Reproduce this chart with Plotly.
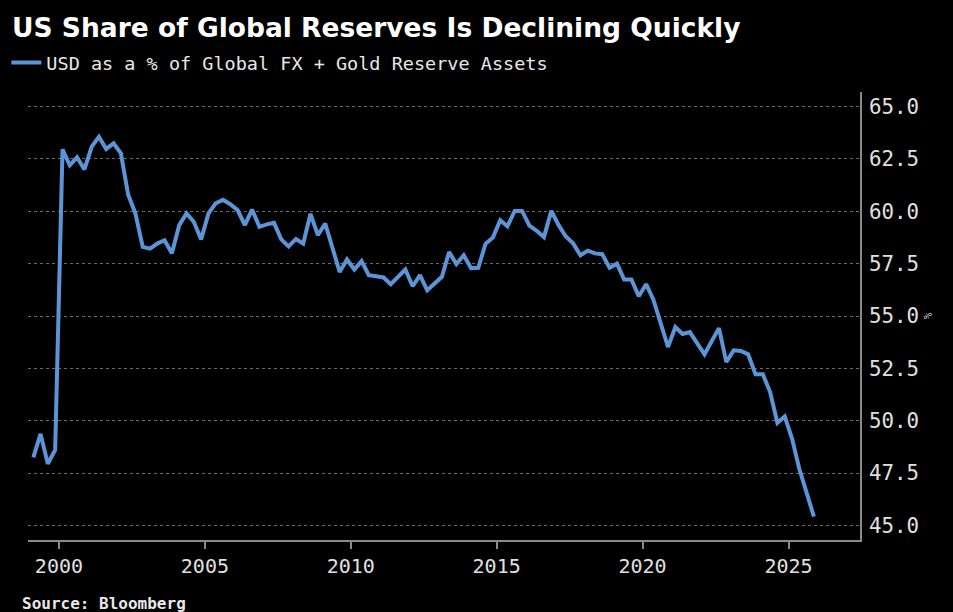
import pandas as pd
import plotly.graph_objects as go

TITLE = "US Share of Global Reserves Is Declining Quickly"
SERIES_NAME = "USD as a % of Global FX + Gold Reserve Assets"
SOURCE = "Source: Bloomberg"
START_QUARTER = "1999Q1"

usd_share = [
    48.25, 49.37, 47.94, 48.6, 62.96, 62.2, 62.58, 62.0, 63.09, 63.56,
    62.98, 63.25, 62.77, 60.8, 59.9, 58.3, 58.22, 58.46, 58.62, 58.0,
    59.34, 59.9, 59.5, 58.66, 59.9, 60.38, 60.55, 60.34, 60.06, 59.34,
    60.08, 59.26, 59.38, 59.45, 58.66, 58.32, 58.68, 58.46, 59.88, 58.86,
    59.42, 58.22, 57.1, 57.7, 57.22, 57.62, 56.95, 56.9, 56.84, 56.52,
    56.9, 57.22, 56.42, 56.95, 56.23, 56.55, 56.87, 58.06, 57.48, 57.9,
    57.28, 57.3, 58.45, 58.75, 59.57, 59.28, 60.02, 60.02, 59.32, 59.07,
    58.77, 60.02, 59.34, 58.8, 58.47, 57.9, 58.12, 57.99, 57.95, 57.3,
    57.5, 56.74, 56.74, 55.94, 56.52, 55.78, 54.64, 53.52, 54.47, 54.14,
    54.23, 53.68, 53.17, 53.8, 54.42, 52.8, 53.36, 53.33, 53.17, 52.22,
    52.22, 51.37, 49.9, 50.2, 49.13, 47.7, 46.5, 45.42,
]

y_ticks = [45.0, 47.5, 50.0, 52.5, 55.0, 57.5, 60.0, 62.5, 65.0]
x_tick_years = [2000, 2005, 2010, 2015, 2020, 2025]

quarters = pd.period_range(START_QUARTER, periods=len(usd_share), freq="Q")
dates = quarters.to_timestamp(how="start") + pd.Timedelta(days=45)

LINE_COLOR = "#5b95d8"
MONO = "DejaVu Sans Mono"

fig = go.Figure()
fig.add_trace(go.Scatter(
    x=dates, y=usd_share, mode="lines", name=SERIES_NAME,
    line=dict(color=LINE_COLOR, width=4),
))

fig.update_layout(
    width=953, height=612,
    paper_bgcolor="black", plot_bgcolor="black",
    margin=dict(l=28, r=93, t=92, b=72, autoexpand=False),
    title=dict(
        text="<b>" + TITLE + "</b>", x=12 / 953, xanchor="left",
        y=1 - 28 / 612, yanchor="middle",
        font=dict(family="DejaVu Sans", size=26.5, color="white"),
    ),
    showlegend=True,
    legend=dict(
        x=-0.026, y=1.0647, xanchor="left", yanchor="middle",
        bgcolor="rgba(0,0,0,0)", borderwidth=0,
        font=dict(family=MONO, size=18.5, color="#e8e8e8"),
        itemwidth=30,
    ),
    xaxis=dict(
        range=["1998-12-10", "2027-06-15"],
        tickvals=[pd.Timestamp(f"{y}-01-01") for y in x_tick_years],
        ticktext=[str(y) for y in x_tick_years],
        showgrid=False, showline=True, linecolor="#8a8a8a", linewidth=1.5,
        ticks="outside", ticklen=7, tickcolor="#8a8a8a", tickwidth=1.5,
        tickfont=dict(family=MONO, size=20, color="#e0e0e0"),
        zeroline=False,
    ),
    yaxis=dict(
        side="right", range=[44.3, 65.7],
        tickvals=y_ticks, ticktext=[f"{v:.1f}" for v in y_ticks],
        showgrid=True, gridcolor="#6a6a6a", griddash="dot", gridwidth=1,
        showline=True, linecolor="#8a8a8a", linewidth=1.5,
        ticks="", ticklabelstandoff=3,
        tickfont=dict(family=MONO, size=20.8, color="#e0e0e0"),
        zeroline=False,
    ),
    annotations=[
        dict(text="%", xref="paper", yref="paper", x=(936 - 28) / 832,
             y=0.5, showarrow=False, textangle=90,
             font=dict(family=MONO, size=11, color="#cfcfcf")),
        dict(text="<b>" + SOURCE + "</b>", xref="paper", yref="paper",
             x=(20 - 28) / 832, y=(540 - 603) / 448, xanchor="left",
             yanchor="middle", showarrow=False,
             font=dict(family=MONO, size=16, color="#e8e8e8")),
    ],
)

fig.write_html("out.html", config={"displayModeBar": False},
               post_script="document.body.style.margin='0';")
